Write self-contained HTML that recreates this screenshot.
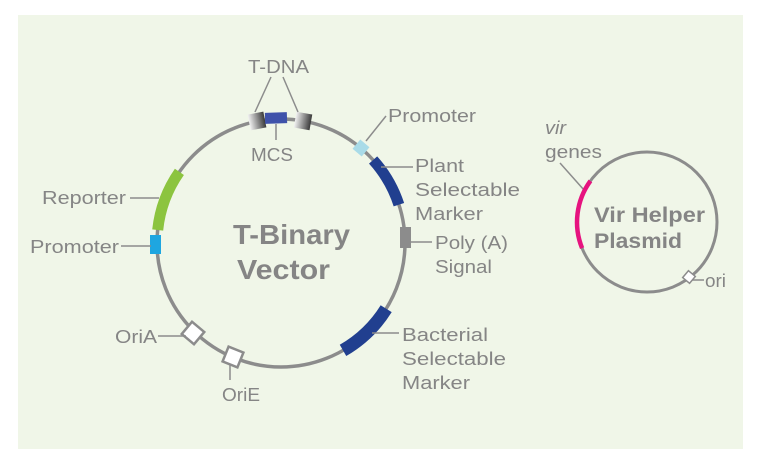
<!DOCTYPE html>
<html><head><meta charset="utf-8"><style>
html,body{margin:0;padding:0;background:#fff;}
svg{display:block;}
text{font-family:"Liberation Sans",sans-serif;fill:#858585;}
</style></head><body>
<svg width="759" height="460" viewBox="0 0 759 460" xmlns="http://www.w3.org/2000/svg">
<defs>
<linearGradient id="g1" x1="0" y1="0" x2="1" y2="0">
<stop offset="0" stop-color="#f2f2f2"/><stop offset="1" stop-color="#3a3a3a"/></linearGradient>
</defs>
<rect x="18" y="15" width="725" height="434" fill="#f0f6e8"/>
<circle cx="281" cy="243" r="124" fill="none" stroke="#8c8c8c" stroke-width="3.5"/>
<path d="M157.7,230 A124,124 0 0 1 179.4,171.9" fill="none" stroke="#8cc43f" stroke-width="11"/>
<path d="M373.1,160 A124,124 0 0 1 398.9,204.7" fill="none" stroke="#213f8f" stroke-width="11"/>
<path d="M386.2,308.7 A124,124 0 0 1 343,350.4" fill="none" stroke="#213f8f" stroke-width="13"/>
<rect x="400" y="227" width="11" height="21" fill="#8c8c8c"/>
<rect x="150" y="235" width="11" height="19" fill="#1ea6e0"/>
<g transform="translate(257,121) rotate(-11)"><rect x="-8" y="-8" width="16" height="16" fill="url(#g1)"/></g>
<g transform="translate(276,118) rotate(-2)"><rect x="-11" y="-5.5" width="22" height="11" fill="#3f52aa"/></g>
<g transform="translate(303,121) rotate(10)"><rect x="-8" y="-8" width="16" height="16" fill="url(#g1)"/></g>
<g transform="translate(361,148) rotate(40)"><rect x="-6" y="-6" width="12" height="12" fill="#a9dbe8"/></g>
<g transform="translate(193,333) rotate(40)"><rect x="-8" y="-8" width="16" height="16" fill="#fff" stroke="#8c8c8c" stroke-width="2.5"/></g>
<g transform="translate(233,357) rotate(22)"><rect x="-8" y="-8" width="16" height="16" fill="#fff" stroke="#8c8c8c" stroke-width="2.5"/></g>
<g stroke="#8c8c8c" stroke-width="1.5" fill="none">
<line x1="271" y1="77" x2="255" y2="112"/>
<line x1="283" y1="77" x2="298" y2="112"/>
<line x1="276" y1="124" x2="276" y2="140"/>
<line x1="366" y1="141" x2="386" y2="116"/>
<line x1="381" y1="167" x2="413" y2="167"/>
<line x1="411" y1="242" x2="432" y2="242"/>
<line x1="372" y1="333" x2="399" y2="333"/>
<line x1="230" y1="364" x2="230" y2="380"/>
<line x1="158" y1="336" x2="186" y2="336"/>
<line x1="121" y1="246" x2="151" y2="246"/>
<line x1="130" y1="198" x2="159" y2="198"/>
<line x1="560" y1="163" x2="584" y2="190"/>
<line x1="692" y1="280" x2="704" y2="280"/>
</g>
<g font-size="18" lengthAdjust="spacingAndGlyphs">
<text x="248" y="73" textLength="61" lengthAdjust="spacingAndGlyphs">T-DNA</text>
<text x="251" y="161" textLength="42" lengthAdjust="spacingAndGlyphs">MCS</text>
<text x="388" y="122" textLength="88" lengthAdjust="spacingAndGlyphs">Promoter</text>
<text x="415" y="172" textLength="49" lengthAdjust="spacingAndGlyphs">Plant</text>
<text x="415" y="196" textLength="105" lengthAdjust="spacingAndGlyphs">Selectable</text>
<text x="415" y="220" textLength="68" lengthAdjust="spacingAndGlyphs">Marker</text>
<text x="435" y="249" textLength="73" lengthAdjust="spacingAndGlyphs">Poly (A)</text>
<text x="435" y="273" textLength="57" lengthAdjust="spacingAndGlyphs">Signal</text>
<text x="402" y="341" textLength="86" lengthAdjust="spacingAndGlyphs">Bacterial</text>
<text x="402" y="365" textLength="104" lengthAdjust="spacingAndGlyphs">Selectable</text>
<text x="402" y="389" textLength="68" lengthAdjust="spacingAndGlyphs">Marker</text>
<text x="222" y="401" textLength="38" lengthAdjust="spacingAndGlyphs">OriE</text>
<text x="115" y="343" textLength="42" lengthAdjust="spacingAndGlyphs">OriA</text>
<text x="30" y="253" textLength="89" lengthAdjust="spacingAndGlyphs">Promoter</text>
<text x="42" y="204" textLength="84" lengthAdjust="spacingAndGlyphs">Reporter</text>
<text x="545" y="134" font-style="italic" textLength="21" lengthAdjust="spacingAndGlyphs">vir</text>
<text x="545" y="158" textLength="57" lengthAdjust="spacingAndGlyphs">genes</text>
<text x="705" y="287" textLength="21" lengthAdjust="spacingAndGlyphs">ori</text>
</g>
<text x="233" y="244" font-size="28" font-weight="bold" fill="#888" textLength="117" lengthAdjust="spacingAndGlyphs">T-Binary</text>
<text x="237" y="279" font-size="28" font-weight="bold" fill="#888" textLength="93" lengthAdjust="spacingAndGlyphs">Vector</text>
<circle cx="647" cy="222" r="70" fill="none" stroke="#8c8c8c" stroke-width="3"/>
<path d="M582.1,248.2 A70,70 0 0 1 590.4,180.9" fill="none" stroke="#e6137f" stroke-width="4.5"/>
<g transform="translate(689,277) rotate(40)"><rect x="-4.5" y="-4.5" width="9" height="9" fill="#fff" stroke="#8c8c8c" stroke-width="1.5"/></g>
<text x="594" y="222" font-size="21" font-weight="bold" fill="#888" textLength="111" lengthAdjust="spacingAndGlyphs">Vir Helper</text>
<text x="594" y="248" font-size="21" font-weight="bold" fill="#888" textLength="88" lengthAdjust="spacingAndGlyphs">Plasmid</text>
</svg>
</body></html>
